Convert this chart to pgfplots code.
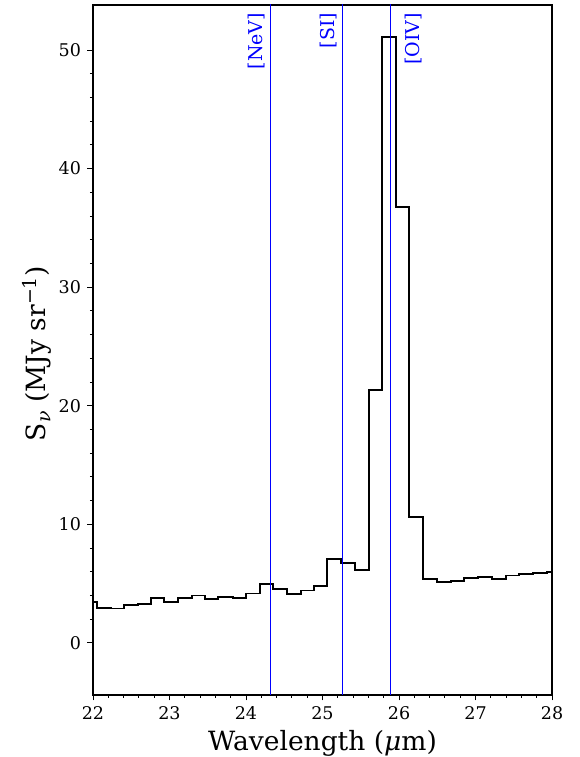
\documentclass[border=0pt]{standalone}
\usepackage{pgfplots}
\pgfplotsset{compat=1.18}
\usepackage{fontspec}
\setmainfont{DejaVu Serif}
\begin{document}
\begin{tikzpicture}
\begin{axis}[
  scale only axis,
  width=459pt, height=690pt,
  xmin=22, xmax=28, ymin=-4.4, ymax=53.8,
  xtick={22,23,24,25,26,27,28},
  ytick={0,10,20,30,40,50},
  minor x tick num=4,
  minor y tick num=4,
  tick pos=left,
  tick align=outside,
  major tick length=5.5pt,
  minor tick length=3pt,
  tick style={black, line width=0.9pt},
  axis line style={line width=1.1pt},
  /pgf/number format/assume math mode=true,
  ticklabel style={font=\fontsize{17.5}{19}\selectfont},
  yticklabel style={xshift=-3pt},
  xticklabel style={yshift=-2pt},
  xlabel={Wavelength (\textit{μ}m)},
  ylabel={S\kern0.5pt\raisebox{-4.5pt}{\fontsize{19}{19}\selectfont\textit{ν}} (MJy sr\raisebox{9.5pt}{\fontsize{19}{19}\selectfont −1})},
  label style={font=\fontsize{26.5}{30}\selectfont},
  xlabel style={at={(axis description cs:0.5,0)}, anchor=base, yshift=-55.5pt},
  ylabel style={at={(axis description cs:0,0.5)}, anchor=base, yshift=47pt, xshift=-4pt},
  clip=true,
]
\addplot[const plot, black, line width=1.9pt] coordinates {
(22.000,3.48) (22.048,2.96) (22.231,2.90) (22.405,3.20) (22.584,3.30)
(22.758,3.77) (22.932,3.48) (23.107,3.77) (23.290,3.99) (23.464,3.71)
(23.638,3.90) (23.826,3.77) (24.000,4.16) (24.183,4.97) (24.357,4.53)
(24.540,4.10) (24.715,4.41) (24.889,4.80) (25.063,7.08) (25.242,6.77)
(25.425,6.13) (25.604,21.33) (25.778,51.10) (25.961,36.76) (26.135,10.62)
(26.318,5.42) (26.497,5.14) (26.676,5.23) (26.854,5.48) (27.037,5.56)
(27.216,5.42) (27.395,5.68) (27.573,5.79) (27.756,5.87) (27.939,6.01)
(28.000,6.01)
};
\addplot[draw=blue, line width=1pt] coordinates {(24.320,-10) (24.320,60)};
\addplot[draw=blue, line width=1pt] coordinates {(25.262,-10) (25.262,60)};
\addplot[draw=blue, line width=1pt] coordinates {(25.889,-10) (25.889,60)};
\node[xshift=-5pt, yshift=-7.7pt, rotate=90, anchor=south east, inner sep=0pt, text=blue, font=\fontsize{19}{21}\selectfont] at (axis cs:24.320,53.8) {[NeV]};
\node[xshift=-5pt, yshift=-7.7pt, rotate=90, anchor=south east, inner sep=0pt, text=blue, font=\fontsize{19}{21}\selectfont] at (axis cs:25.262,53.8) {[SI]};
\node[xshift=14.3pt, yshift=-7.7pt, rotate=90, anchor=north east, inner sep=0pt, text=blue, font=\fontsize{19}{21}\selectfont] at (axis cs:25.889,53.8) {[OIV]};
\coordinate (sw) at (rel axis cs:0,0);
\coordinate (ne) at (rel axis cs:1,1);
\end{axis}
\pgfresetboundingbox
\path[use as bounding box] ([xshift=-93pt,yshift=-62pt]sw) rectangle ([xshift=28pt,yshift=5pt]ne);
\end{tikzpicture}
\end{document}
